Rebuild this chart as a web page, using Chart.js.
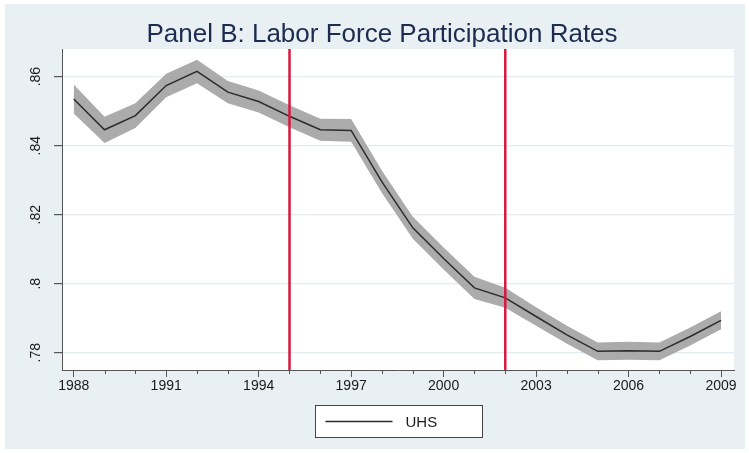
<!DOCTYPE html>
<html>
<head>
<meta charset="utf-8">
<script src="https://cdn.jsdelivr.net/npm/chart.js@4.4.1/dist/chart.umd.min.js"></script>
<style>
  html, body { margin: 0; padding: 0; background: #fff; }
  #wrap { width: 749px; height: 453px; }
</style>
</head>
<body>
<div id="wrap"><canvas id="myChart" width="749" height="453"></canvas></div>
<script>
// data
const years = [1988, 1989, 1990, 1991, 1992, 1993, 1994, 1995, 1996, 1997, 1998,
               1999, 2000, 2001, 2002, 2003, 2004, 2005, 2006, 2007, 2008, 2009]
const uhs = [.8535, .8446, .8487, .8574, .8615, .8555, .8528, .8485, .8446, .8444, .8295,
             .8162, .8073, .7988, .7959, .7905, .7852, .7804, .7806, .7804, .7847, .7894]
const uhsUpper = [.8577, .8484, .8523, .8608, .8649, .8587, .8560, .8517, .8478, .8477, .8327,
                  .8194, .8105, .8020, .7988, .7932, .7878, .7830, .7832, .7830, .7873, .7920]
const uhsLower = [.8493, .8408, .8451, .8540, .8581, .8523, .8496, .8453, .8414, .8411, .8263,
                  .8130, .8041, .7956, .7930, .7878, .7826, .7778, .7780, .7778, .7821, .7868]
const breakYears = [1995, 2002]
const xTicks = [1988, 1991, 1994, 1997, 2000, 2003, 2006, 2009]
const yTicks = [.78, .80, .82, .84, .86]
const yMin = .775, yMax = .868
const xMin = 1987.62, xMax = 2009.42
const titleText = 'Panel B: Labor Force Participation Rates'

const FONT = '"Liberation Sans", Arial, Helvetica, sans-serif'

const pts = arr => years.map((y, i) => ({ x: y, y: arr[i] }))

// backgrounds, title, rotated y labels, minor ticks, legend box
const stataLook = {
    id: 'stataLook',
    beforeDraw(chart) {
        const c = chart.ctx, a = chart.chartArea
        c.save()
        c.fillStyle = '#ffffff'
        c.fillRect(0, 0, chart.width, chart.height)
        c.fillStyle = '#e8f0f3'
        c.fillRect(5, 4, chart.width - 9, chart.height - 8)
        c.fillStyle = '#ffffff'
        c.fillRect(a.left, a.top, a.right - a.left, a.bottom - a.top)
        c.restore()
    },
    afterDraw(chart) {
        const c = chart.ctx, a = chart.chartArea
        const ys = chart.scales.y, xs = chart.scales.x
        c.save()
        // title, stata centres it a bit right of the canvas middle
        c.fillStyle = '#1c2b4e'
        c.font = '26px ' + FONT
        c.textAlign = 'center'
        c.textBaseline = 'alphabetic'
        c.fillText(titleText, 382, 42)
        // y tick labels, rotated like stata
        c.fillStyle = '#1a1a1a'
        c.font = '14px ' + FONT
        c.textBaseline = 'middle'
        ys.ticks.forEach(t => {
            const lab = String(Number(t.value.toFixed(2))).replace(/^0/, '')
            c.save()
            c.translate(a.left - 26, ys.getPixelForValue(t.value))
            c.rotate(-Math.PI / 2)
            c.fillText(lab, 0, 0)
            c.restore()
        })
        // minor ticks every year
        c.strokeStyle = '#555'
        c.lineWidth = 1
        years.forEach(yr => {
            if (xTicks.includes(yr)) return
            const px = Math.round(xs.getPixelForValue(yr)) + 0.5
            c.beginPath()
            c.moveTo(px, a.bottom)
            c.lineTo(px, a.bottom + 4)
            c.stroke()
        })
        // legend box
        const ds = chart.data.datasets.find(d => d.showInLegend)
        const bw = 167, bh = 32
        const cx = (a.left + a.right) / 2
        const bx = Math.round(cx - bw / 2) + 0.5, by = 405.5
        c.fillStyle = '#fff'
        c.fillRect(bx, by, bw, bh)
        c.strokeStyle = '#444'
        c.lineWidth = 1
        c.strokeRect(bx, by, bw, bh)
        c.strokeStyle = ds.borderColor
        c.lineWidth = ds.borderWidth
        c.beginPath()
        c.moveTo(bx + 10, by + bh / 2)
        c.lineTo(bx + 77, by + bh / 2)
        c.stroke()
        c.fillStyle = '#1a1a1a'
        c.font = '15px ' + FONT
        c.textAlign = 'left'
        c.fillText(ds.label, bx + 90, by + bh / 2 + 1)
        c.restore()
    }
}

const ctx = document.getElementById('myChart').getContext('2d')
const myChart = new Chart(ctx, {
    type: 'line',
    data: {
        datasets: [
            {
                label: 'lower', data: pts(uhsLower), borderWidth: 0, pointRadius: 0,
                fill: false, order: 5
            },
            {
                label: 'upper', data: pts(uhsUpper), borderWidth: 0, pointRadius: 0,
                backgroundColor: '#ababab', fill: '-1', order: 4
            },
            {
                label: 'UHS', data: pts(uhs), borderColor: '#2b2b2b', borderWidth: 1.5,
                pointRadius: 0, fill: false, order: 2, showInLegend: true
            },
            ...breakYears.map(yr => ({
                label: 'break ' + yr,
                data: [{ x: yr, y: yMin }, { x: yr, y: yMax }],
                borderColor: '#d8183f', borderWidth: 2.5, pointRadius: 0, fill: false, order: 0
            }))
        ]
    },
    options: {
        responsive: false,
        animation: false,
        maintainAspectRatio: false,
        layout: { padding: { left: 0, right: 15, top: 49, bottom: 0 } },
        plugins: {
            legend: { display: false },
            tooltip: { enabled: false },
            title: { display: false }
        },
        scales: {
            x: {
                type: 'linear',
                min: xMin,
                max: xMax,
                afterBuildTicks: s => { s.ticks = xTicks.map(v => ({ value: v })) },
                afterFit: s => { s.height = 83 },
                ticks: {
                    callback: v => String(v),
                    color: '#1a1a1a',
                    font: { size: 14, family: FONT },
                    padding: 1,
                    maxRotation: 0,
                    autoSkip: false
                },
                grid: { drawOnChartArea: false, tickLength: 7, tickColor: '#555' },
                border: { color: '#555', width: 1 }
            },
            y: {
                min: yMin,
                max: yMax,
                afterBuildTicks: s => { s.ticks = yTicks.map(v => ({ value: v })) },
                afterFit: s => { s.width = 62 },
                ticks: { display: false },
                grid: { color: '#e3edf1', lineWidth: 1.2, tickLength: 8, tickColor: '#555' },
                border: { color: '#555', width: 1 }
            }
        }
    },
    plugins: [stataLook]
})
</script>
</body>
</html>
